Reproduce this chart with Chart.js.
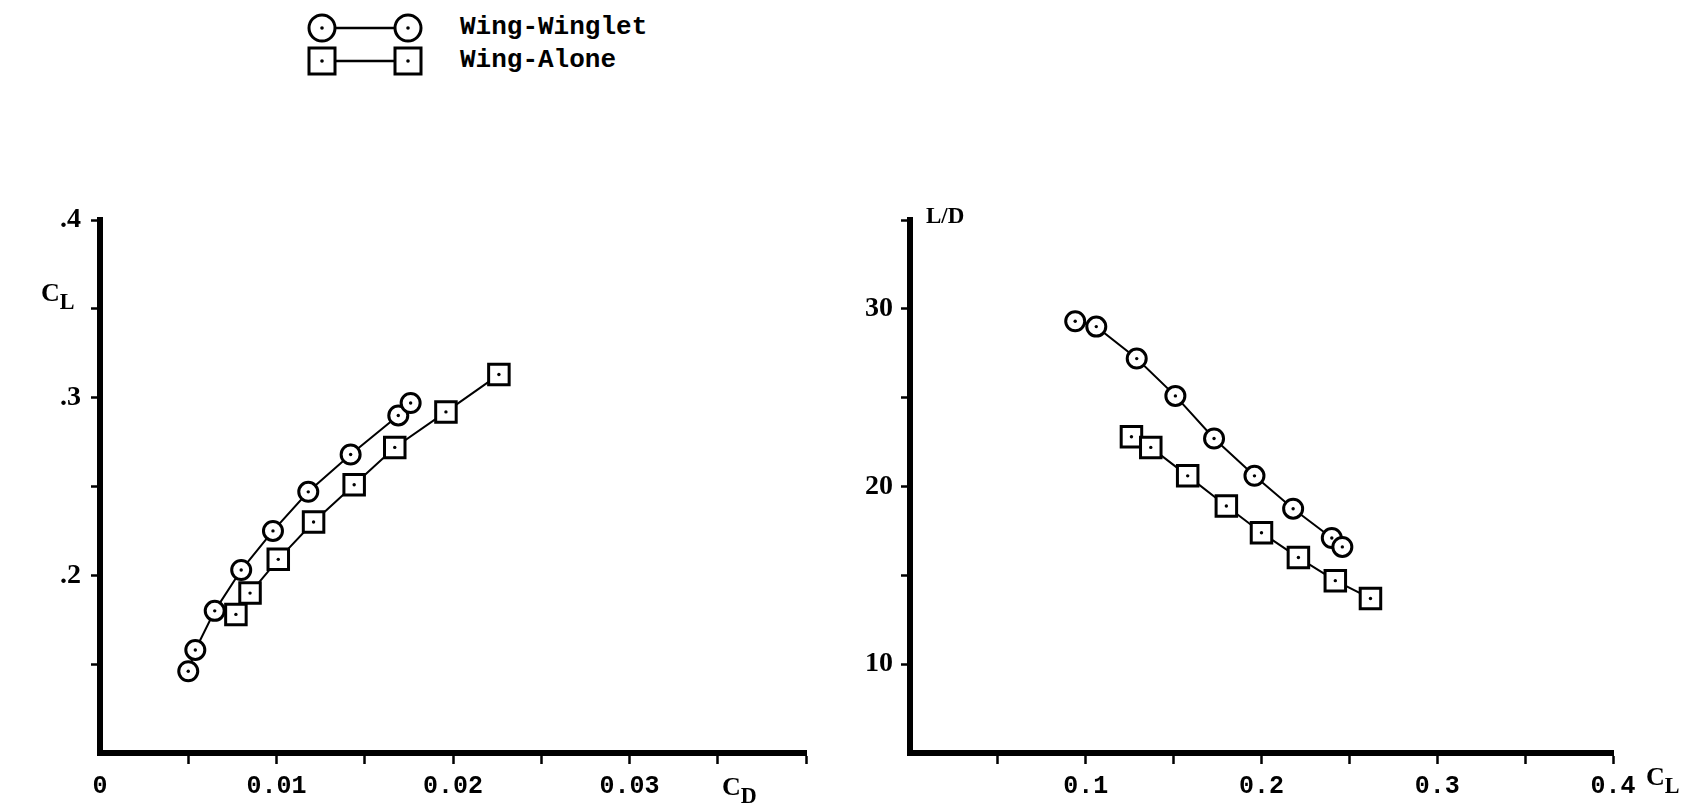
<!DOCTYPE html>
<html>
<head>
<meta charset="utf-8">
<script src="https://cdn.jsdelivr.net/npm/chart.js@4.4.1/dist/chart.umd.min.js"></script>
<style>
  body { margin: 0; background: #fff; width: 1687px; height: 806px; position: relative; overflow: hidden; }
  canvas { position: absolute; }
  .lbl { position: absolute; font-family: 'Liberation Serif', serif; font-weight: bold; font-size: 26px; line-height: 26px; color: #000; white-space: nowrap; }
  .lbl sub { font-size: 85%; vertical-align: -0.35em; line-height: 0; }
  .leg { position: absolute; font-family: 'Liberation Mono', monospace; font-weight: bold; font-size: 26px; line-height: 26px; color: #000; }
</style>
</head>
<body>

<svg style="position:absolute;left:290px;top:0px" width="150" height="80">
  <line x1="32" y1="28" x2="118" y2="28" stroke="#000" stroke-width="2.5"/>
  <circle cx="32" cy="28" r="13" fill="#fff" stroke="#000" stroke-width="3"/>
  <circle cx="118" cy="28" r="13" fill="#fff" stroke="#000" stroke-width="3"/>
  <circle cx="32" cy="28" r="1.8" fill="#000"/>
  <circle cx="118" cy="28" r="1.8" fill="#000"/>
  <line x1="32" y1="61" x2="118" y2="61" stroke="#000" stroke-width="2.5"/>
  <rect x="19" y="48" width="26" height="26" fill="#fff" stroke="#000" stroke-width="3"/>
  <rect x="105" y="48" width="26" height="26" fill="#fff" stroke="#000" stroke-width="3"/>
  <circle cx="32" cy="61" r="1.8" fill="#000"/>
  <circle cx="118" cy="61" r="1.8" fill="#000"/>
</svg>
<div class="leg" style="left:460px;top:14px">Wing-Winglet</div>
<div class="leg" style="left:460px;top:47px">Wing-Alone</div>

<canvas id="cdChart" width="860" height="606" style="left:0;top:200px"></canvas>
<canvas id="ldChart" width="827" height="606" style="left:860px;top:200px"></canvas>

<div class="lbl" style="left:41px;top:280px">C<sub>L</sub></div>
<div class="lbl" style="left:722px;top:774px">C<sub>D</sub></div>
<div class="lbl" style="left:926px;top:203px;font-size:23px">L/D</div>
<div class="lbl" style="left:1646px;top:764px">C<sub>L</sub></div>

<script>
// Drag polar: CD vs CL
const wingletCD = [0.0050, 0.0054, 0.0065, 0.0080, 0.0098, 0.0118, 0.0142, 0.0169, 0.0176];
const wingletCL = [0.146, 0.158, 0.180, 0.203, 0.225, 0.247, 0.268, 0.290, 0.297];
const aloneCD = [0.0077, 0.0085, 0.0101, 0.0121, 0.0144, 0.0167, 0.0196, 0.0226];
const aloneCL = [0.178, 0.190, 0.209, 0.230, 0.251, 0.272, 0.292, 0.313];

// Lift-to-drag ratio vs CL
const wingletLDCL = [0.094, 0.106, 0.129, 0.151, 0.173, 0.196, 0.218, 0.240, 0.246];
const wingletLD = [29.3, 29.0, 27.2, 25.1, 22.7, 20.6, 18.75, 17.1, 16.6];
const aloneLDCL = [0.126, 0.137, 0.158, 0.180, 0.200, 0.221, 0.242, 0.262];
const aloneLD = [22.8, 22.2, 20.6, 18.9, 17.4, 16.0, 14.7, 13.7];

// Tick values and labels
const cdTicks = [0, 0.005, 0.01, 0.015, 0.02, 0.025, 0.03, 0.035, 0.04];
const cdTickLabels = ['0', '', '0.01', '', '0.02', '', '0.03', '', ''];
const clTicks = [0.15, 0.2, 0.25, 0.3, 0.35, 0.4];
const clTickLabels = ['', '.2', '', '.3', '', '.4'];
const clxTicks = [0.05, 0.1, 0.15, 0.2, 0.25, 0.3, 0.35, 0.4];
const clxTickLabels = ['', '0.1', '', '0.2', '', '0.3', '', '0.4'];
const ldTicks = [10, 15, 20, 25, 30, 35];
const ldTickLabels = ['10', '', '20', '', '30', ''];

function pts(xs, ys) {
    return xs.map((x, i) => ({ x: x, y: ys[i] }));
}

function makeDatasets(wx, wy, ax, ay) {
    const line = {
        borderColor: '#000',
        borderWidth: 2,
        backgroundColor: '#fff',
        pointBorderColor: '#000',
        pointBackgroundColor: '#fff',
        pointBorderWidth: 3,
        showLine: true,
        tension: 0,
        order: 1
    };
    const dot = {
        showLine: false,
        pointRadius: 1.7,
        pointBorderWidth: 0,
        pointBackgroundColor: '#000',
        order: 0
    };
    return [
        Object.assign({}, line, { label: 'Wing-Winglet', data: pts(wx, wy), pointStyle: 'circle', pointRadius: 9.5 }),
        Object.assign({}, line, { label: 'Wing-Alone', data: pts(ax, ay), pointStyle: 'rect', pointRadius: 14.5 }),
        Object.assign({}, dot, { data: pts(wx, wy) }),
        Object.assign({}, dot, { data: pts(ax, ay) })
    ];
}

function axis(min, max, ticks, labels, opts) {
    return {
        type: 'linear',
        min: min,
        max: max,
        afterBuildTicks: (scale) => { scale.ticks = ticks.map(v => ({ value: v })); },
        afterFit: (scale) => {
            if (opts.width) {
                scale.width = opts.width;
                // keep the plot box fixed, the top label may stick out
                scale.paddingTop = 0;
                scale.paddingBottom = 0;
            }
            if (opts.height) scale.height = opts.height;
        },
        border: { display: true, color: '#000', width: 6 },
        grid: {
            drawOnChartArea: false,
            drawTicks: true,
            tickLength: opts.tickLength,
            tickWidth: 2.5,
            color: (ctx) => (ctx.tick && ctx.tick.value === 0 ? 'rgba(0,0,0,0)' : '#000')
        },
        ticks: {
            autoSkip: false,
            maxRotation: 0,
            color: '#000',
            padding: opts.padding,
            font: opts.font,
            callback: (v, i) => labels[i]
        }
    };
}

const monoFont = { family: 'Liberation Mono', size: 25, weight: 'bold' };
const serifFont = { family: 'Liberation Serif', size: 28, weight: 'bold' };

const commonPlugins = {
    legend: { display: false },
    tooltip: { enabled: false }
};

new Chart(document.getElementById('cdChart').getContext('2d'), {
    type: 'scatter',
    data: { datasets: makeDatasets(wingletCD, wingletCL, aloneCD, aloneCL) },
    options: {
        responsive: false,
        animation: false,
        layout: { padding: { top: 20, right: 54, left: 0, bottom: 0 } },
        plugins: commonPlugins,
        scales: {
            x: axis(0, 0.04, cdTicks, cdTickLabels, { height: 53, tickLength: 11, padding: 8, font: monoFont }),
            y: axis(0.1, 0.4, clTicks, clTickLabels, { width: 100, tickLength: 9, padding: 10, font: serifFont })
        }
    }
});

new Chart(document.getElementById('ldChart').getContext('2d'), {
    type: 'scatter',
    data: { datasets: makeDatasets(wingletLDCL, wingletLD, aloneLDCL, aloneLD) },
    options: {
        responsive: false,
        animation: false,
        layout: { padding: { top: 20, right: 74, left: 0, bottom: 0 } },
        plugins: commonPlugins,
        scales: {
            x: axis(0, 0.4, clxTicks, clxTickLabels, { height: 53, tickLength: 11, padding: 8, font: monoFont }),
            y: axis(5, 35, ldTicks, ldTickLabels, { width: 50, tickLength: 9, padding: 8, font: serifFont })
        }
    }
});
</script>
</body>
</html>
